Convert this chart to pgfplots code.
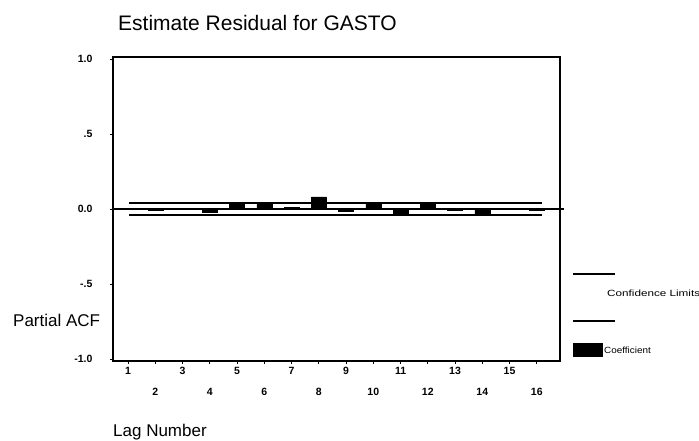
\documentclass[border=0pt]{standalone}
\usepackage{graphicx}
\usepackage{pgfplots}
\pgfplotsset{compat=1.18}
\usepackage{fontspec}
\setmainfont{Liberation Sans}
\begin{document}
\begin{tikzpicture}[x=1pt,y=1pt]
\path[use as bounding box] (0,0) rectangle (699,441);
\begin{axis}[
  at={(113pt,80pt)}, anchor=south west,
  width=447pt, height=304pt, scale only axis,
  xmin=0.45, xmax=16.85, ymin=-1.013, ymax=1.013,
  axis line style={line width=1.4pt},
  xtick={1,3,...,15}, xticklabels={1,3,5,7,9,11,13,15},
  extra x ticks={2,4,...,16}, extra x tick labels={2,4,6,8,10,12,14,16},
  extra x tick style={tick label style={yshift=-21pt}},
  ytick={-1,-0.5,0,0.5,1}, yticklabels={-1.0,-.5,0.0,.5,1.0},
  tick align=outside, major tick length=3pt,
  tick style={black, line width=0.8pt},
  xtick pos=bottom, ytick pos=left,
  tick label style={font=\fontsize{10.5}{11}\selectfont\bfseries},
  yticklabel style={xshift=-14pt},
  clip=false,
]
\addplot[ybar, bar width=15pt, fill=black, draw=black] coordinates {
  (1,0.005) (2,-0.005) (3,0.005) (4,-0.02) (5,0.03) (6,0.03) (7,0.01) (8,0.08)
  (9,-0.015) (10,0.03) (11,-0.035) (12,0.03) (13,-0.01) (14,-0.04) (15,0.005) (16,-0.005)};
\addplot[line width=1.3pt] coordinates {(1.04,0.04) (16.2,0.04)};
\addplot[line width=1.3pt] coordinates {(1.04,-0.04) (16.2,-0.04)};
\addplot[line width=1.4pt] coordinates {(0.4,0) (17,0)};
\end{axis}
\node[anchor=base west, inner sep=0, font=\fontsize{21}{25}\selectfont] at (118,410) {Estimate Residual for GASTO};
\node[anchor=base west, inner sep=0, font=\fontsize{17}{20}\selectfont] at (13,114) {Partial ACF};
\node[anchor=base west, inner sep=0, font=\fontsize{17}{20}\selectfont] at (113,4) {Lag Number};
\draw[line width=1.2pt] (573,167) -- (615,167);
\node[anchor=west, inner sep=0] at (607,148) {\fontsize{9}{10}\selectfont\scalebox{1.3}[1]{Confidence Limits}};
\draw[line width=1.2pt] (573,120) -- (615,120);
\fill (573,84) rectangle (603,98);
\node[anchor=west, inner sep=0] at (604,91) {\fontsize{9}{10}\selectfont\scalebox{1.1}[1]{Coefficient}};
\end{tikzpicture}
\end{document}
